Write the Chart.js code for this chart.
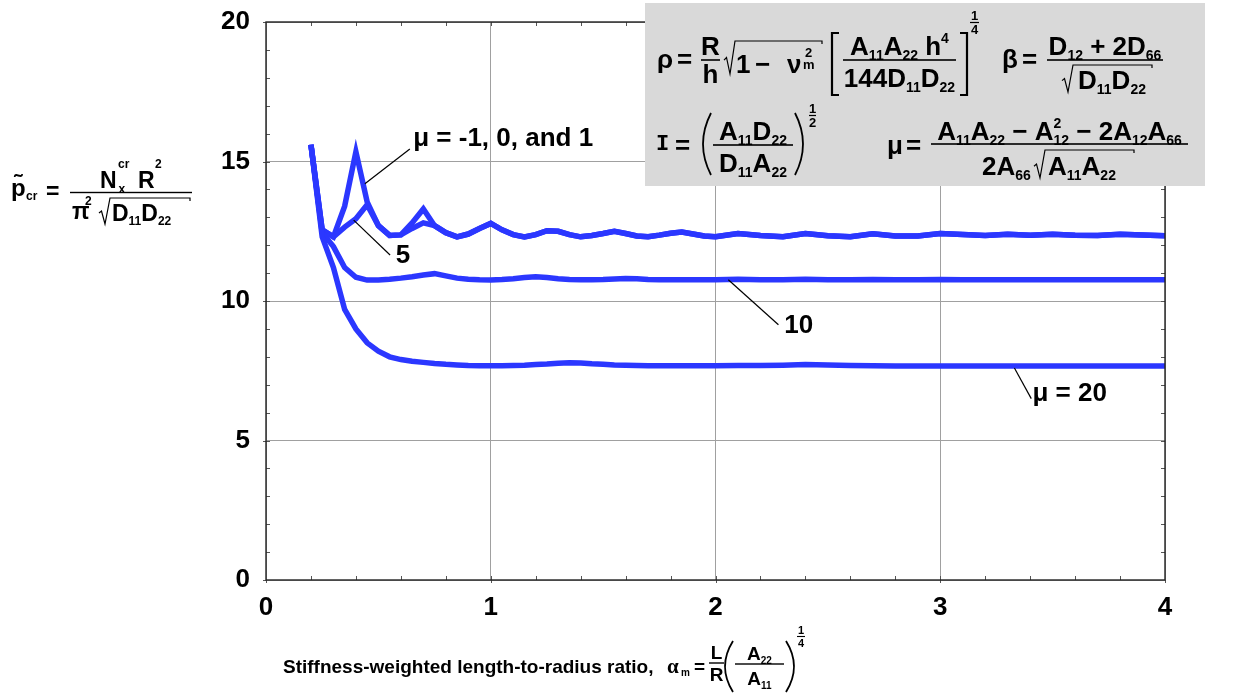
<!DOCTYPE html>
<html>
<head>
<meta charset="utf-8">
<script src="https://cdn.jsdelivr.net/npm/chart.js@4.4.0/dist/chart.umd.min.js"></script>
<style>
  html, body { margin: 0; padding: 0; background: #fff; }
  #wrap { width: 1235px; height: 700px; position: relative; }
</style>
</head>
<body>
<div id="wrap"><canvas id="buckling"></canvas></div>
<script>
// stiffness-weighted length-to-radius ratio, shared by every curve
const alpha = [
  0.2, 0.25, 0.3, 0.35, 0.4, 0.45, 0.5, 0.55, 0.6, 0.65,
  0.7, 0.75, 0.8, 0.85, 0.9, 0.95, 1.0, 1.05, 1.1, 1.15,
  1.2, 1.25, 1.3, 1.35, 1.4, 1.45, 1.5, 1.55, 1.6, 1.65,
  1.7, 1.75, 1.8, 1.85, 1.9, 1.95, 2.0, 2.1, 2.2, 2.3,
  2.4, 2.5, 2.6, 2.7, 2.8, 2.9, 3.0, 3.1, 3.2, 3.3,
  3.4, 3.5, 3.6, 3.7, 3.8, 3.9, 4.0
];

// normalized buckling load for each mu
const pMu1 = [
  15.6, 12.55, 12.3, 13.4, 15.35, 13.55, 12.7, 12.35, 12.37, 12.8,
  13.3, 12.7, 12.45, 12.3, 12.4, 12.6, 12.78, 12.55, 12.38, 12.3,
  12.38, 12.52, 12.5, 12.38, 12.3, 12.35, 12.42, 12.5, 12.42, 12.33,
  12.3, 12.36, 12.43, 12.47, 12.4, 12.33, 12.3, 12.42, 12.35, 12.3,
  12.42, 12.34, 12.3, 12.41, 12.33, 12.33, 12.42, 12.38, 12.35, 12.39,
  12.36, 12.39, 12.36, 12.35, 12.39, 12.37, 12.34
];
const pMu5 = [
  15.6, 12.55, 12.3, 12.65, 12.95, 13.45, 12.7, 12.35, 12.37, 12.6,
  12.8, 12.7, 12.45, 12.3, 12.4, 12.6, 12.78, 12.55, 12.38, 12.3,
  12.38, 12.52, 12.5, 12.38, 12.3, 12.35, 12.42, 12.5, 12.42, 12.33,
  12.3, 12.36, 12.43, 12.47, 12.4, 12.33, 12.3, 12.42, 12.35, 12.3,
  12.42, 12.34, 12.3, 12.41, 12.33, 12.33, 12.42, 12.38, 12.35, 12.39,
  12.36, 12.39, 12.36, 12.35, 12.39, 12.37, 12.34
];
const pMu10 = [
  15.6, 12.45, 11.95, 11.2, 10.85, 10.75, 10.75, 10.78, 10.82, 10.87,
  10.93, 10.98, 10.9, 10.82, 10.78, 10.76, 10.75, 10.77, 10.8, 10.84,
  10.87, 10.84, 10.8, 10.77, 10.76, 10.76, 10.77, 10.79, 10.81, 10.8,
  10.77, 10.76, 10.76, 10.76, 10.76, 10.76, 10.76, 10.78, 10.76, 10.76,
  10.78, 10.76, 10.76, 10.77, 10.76, 10.76, 10.77, 10.76, 10.76, 10.76,
  10.76, 10.76, 10.76, 10.76, 10.76, 10.76, 10.76
];
const pMu20 = [
  15.6, 12.3, 11.2, 9.7, 9.0, 8.5, 8.2, 8.0, 7.9, 7.84,
  7.8, 7.76, 7.73, 7.71, 7.69, 7.68, 7.68, 7.68, 7.69, 7.7,
  7.72, 7.74, 7.77, 7.79, 7.78, 7.75, 7.73, 7.71, 7.7, 7.69,
  7.68, 7.68, 7.68, 7.68, 7.68, 7.68, 7.68, 7.69, 7.69, 7.7,
  7.72, 7.71, 7.69, 7.68, 7.67, 7.67, 7.67, 7.67, 7.67, 7.67,
  7.67, 7.67, 7.67, 7.67, 7.67, 7.67, 7.67
];

// curve labels with their leader lines, in data units
const curveLabels = [
  { text: 'μ = -1, 0, and 1', at: [0.655, 15.8], align: 'left', lead: [[0.44, 14.2], [0.64, 15.45]] },
  { text: '5', at: [0.61, 11.62], align: 'center', lead: [[0.39, 12.9], [0.552, 11.65]] },
  { text: '10', at: [2.37, 9.1], align: 'center', lead: [[2.057, 10.76], [2.28, 9.15]] },
  { text: 'μ = 20', at: [3.41, 6.68], align: 'left', lead: [[3.33, 7.6], [3.405, 6.5]] }
];

const BLUE = 'rgb(43, 55, 255)';
const FAM = '"Liberation Sans", Arial, Helvetica, sans-serif';

function series(vals) {
  return vals.map((v, i) => ({ x: alpha[i], y: v }));
}

// ---- small helpers for the typeset formulas ----
function put(ctx, t, x, base, size, align, fam) {
  ctx.font = 'bold ' + size + 'px ' + (fam || FAM);
  ctx.textAlign = align || 'left';
  ctx.fillText(t, x, base);
  return ctx.measureText(t).width;
}

// pieces: [text, level, stay]; level 0 normal, -1 subscript, 1 superscript
function runText(ctx, x, base, pieces, size, dry) {
  let pen = x;
  ctx.textAlign = 'left';
  for (const [t, lvl, stay] of pieces) {
    const s = lvl === 0 ? size : Math.round(size * 0.54);
    const dy = lvl < 0 ? size * 0.19 : (lvl > 0 ? -size * 0.45 : 0);
    ctx.font = 'bold ' + s + 'px ' + FAM;
    if (!dry) ctx.fillText(t, pen, base + dy);
    if (!stay) pen += ctx.measureText(t).width;
  }
  return pen - x;
}

function centred(ctx, cx, base, pieces, size) {
  const w = runText(ctx, 0, 0, pieces, size, true);
  runText(ctx, cx - w / 2, base, pieces, size);
}

function hbar(ctx, x1, x2, y, lw) {
  ctx.fillRect(x1, y - lw / 2, x2 - x1, lw);
}

function radical(ctx, x, top, bottom, end) {
  const h = bottom - top;
  ctx.save();
  ctx.lineWidth = 1.2;
  ctx.lineJoin = 'miter';
  ctx.beginPath();
  ctx.moveTo(x, bottom - h * 0.42);
  ctx.lineTo(x + 2.5, bottom - h * 0.5);
  ctx.lineTo(x + 6, bottom);
  ctx.lineTo(x + 11, top);
  ctx.lineTo(end, top);
  ctx.lineTo(end, top + 3);
  ctx.stroke();
  ctx.restore();
}

function bracket(ctx, x, top, bottom, dir) {
  ctx.save();
  ctx.lineWidth = 2.2;
  ctx.beginPath();
  ctx.moveTo(x + dir * 7, top);
  ctx.lineTo(x, top);
  ctx.lineTo(x, bottom);
  ctx.lineTo(x + dir * 7, bottom);
  ctx.stroke();
  ctx.restore();
}

function paren(ctx, x, top, bottom, dir) {
  ctx.save();
  ctx.lineWidth = 1.8;
  ctx.beginPath();
  ctx.moveTo(x, top);
  ctx.quadraticCurveTo(x - dir * 16, (top + bottom) / 2, x, bottom);
  ctx.stroke();
  ctx.restore();
}

function drawFormulaBox(ctx) {
  ctx.save();
  ctx.fillStyle = '#d9d9d9';
  ctx.fillRect(645, 3, 560, 183);
  ctx.fillStyle = '#000';
  ctx.strokeStyle = '#000';
  ctx.textBaseline = 'alphabetic';
  const S = 26, s = 13;

  // rho = R/h sqrt(1 - nu_m^2) [A11 A22 h^4 / 144 D11 D22]^(1/4)
  put(ctx, 'ρ', 657, 68, S);
  put(ctx, '=', 677, 68, S);
  hbar(ctx, 701, 720, 60, 1.6);
  put(ctx, 'R', 710.5, 55, S, 'center');
  put(ctx, 'h', 710.5, 83, S, 'center');
  radical(ctx, 724, 41, 74, 822);
  put(ctx, '1', 736, 73, S);
  put(ctx, '\u2212', 755, 73, S);
  put(ctx, 'ν', 787, 73, S);
  put(ctx, '2', 805, 57, s);
  put(ctx, 'm', 803, 69, s);
  bracket(ctx, 832, 33, 95, 1);
  bracket(ctx, 967, 33, 95, -1);
  hbar(ctx, 843, 956, 60, 1.6);
  centred(ctx, 899.5, 55, [['A', 0], ['11', -1], ['A', 0], ['22', -1], [' h', 0], ['4', 1]], S);
  centred(ctx, 899.5, 87, [['144D', 0], ['11', -1], ['D', 0], ['22', -1]], S);
  put(ctx, '1', 974.5, 20, s, 'center');
  hbar(ctx, 970, 979, 22.5, 1.2);
  put(ctx, '4', 974.5, 34, s, 'center');

  // beta = (D12 + 2 D66) / sqrt(D11 D22)
  put(ctx, 'β', 1002, 68, S);
  put(ctx, '=', 1022, 68, S);
  hbar(ctx, 1047, 1163, 60, 1.6);
  centred(ctx, 1105, 55, [['D', 0], ['12', -1], [' + 2D', 0], ['66', -1]], S);
  radical(ctx, 1062, 65, 92, 1152);
  centred(ctx, 1112, 89, [['D', 0], ['11', -1], ['D', 0], ['22', -1]], S);

  // I = (A11 D22 / D11 A22)^(1/2)
  put(ctx, 'I', 656, 150, 22, 'left', '"Liberation Mono", monospace');
  put(ctx, '=', 675, 154, S);
  paren(ctx, 711, 113, 175, 1);
  paren(ctx, 795, 113, 175, -1);
  hbar(ctx, 713, 793, 145, 1.6);
  centred(ctx, 753, 140, [['A', 0], ['11', -1], ['D', 0], ['22', -1]], S);
  centred(ctx, 753, 172, [['D', 0], ['11', -1], ['A', 0], ['22', -1]], S);
  put(ctx, '1', 812.5, 113, s, 'center');
  hbar(ctx, 809, 816, 115.5, 1.2);
  put(ctx, '2', 812.5, 127, s, 'center');

  // mu = (A11 A22 - A12^2 - 2 A12 A66) / (2 A66 sqrt(A11 A22))
  put(ctx, 'μ', 887, 154, S);
  put(ctx, '=', 906, 154, S);
  hbar(ctx, 931, 1188, 144, 1.6);
  centred(ctx, 1059.5, 140, [['A', 0], ['11', -1], ['A', 0], ['22', -1], [' \u2212 A', 0], ['2', 1, true],
    ['12', -1], [' \u2212 2A', 0], ['12', -1], ['A', 0], ['66', -1]], S);
  runText(ctx, 982, 175, [['2A', 0], ['66', -1]], S);
  radical(ctx, 1034, 150, 178, 1134);
  runText(ctx, 1048, 175, [['A', 0], ['11', -1], ['A', 0], ['22', -1]], S);
  ctx.restore();
}

function drawAxisTitles(ctx) {
  ctx.save();
  ctx.fillStyle = '#000';
  ctx.strokeStyle = '#000';
  ctx.textBaseline = 'alphabetic';

  // p~_cr = N_x^cr R^2 / (pi^2 sqrt(D11 D22))
  const T = 23, t = 12;
  put(ctx, 'p', 11, 196, 24);
  put(ctx, '\u02DC', 18, 191, 24, 'center');
  put(ctx, 'cr', 26, 200, t);
  put(ctx, '=', 46, 199, T);
  hbar(ctx, 70, 192, 192.5, 1.4);
  put(ctx, 'N', 100, 188, T);
  put(ctx, 'cr', 118, 168, t);
  put(ctx, 'x', 118.5, 193, t);
  put(ctx, 'R', 138, 188, T);
  put(ctx, '2', 155, 168, t);
  put(ctx, 'π', 72, 219, T);
  put(ctx, '2', 85, 205, t);
  radical(ctx, 99, 198, 224, 190);
  runText(ctx, 112, 221, [['D', 0], ['11', -1], ['D', 0], ['22', -1]], T);

  // Stiffness-weighted length-to-radius ratio, alpha_m = L/R (A22/A11)^(1/4)
  put(ctx, 'Stiffness-weighted length-to-radius ratio,', 283, 673, 19);
  put(ctx, 'α', 667, 673, 21, 'left', '"Liberation Serif", serif');
  put(ctx, 'm', 681, 676, 10);
  put(ctx, '=', 694, 673, 19);
  hbar(ctx, 709, 724, 663, 1.4);
  put(ctx, 'L', 716.5, 659, 19, 'center');
  put(ctx, 'R', 716.5, 681, 19, 'center');
  paren(ctx, 733, 641, 692, 1);
  paren(ctx, 786, 641, 692, -1);
  hbar(ctx, 735, 784, 664, 1.4);
  centred(ctx, 759.5, 660, [['A', 0], ['22', -1]], 19);
  centred(ctx, 759.5, 685, [['A', 0], ['11', -1]], 19);
  put(ctx, '1', 801, 634, 11, 'center');
  hbar(ctx, 797, 805, 636.5, 1.1);
  put(ctx, '4', 801, 647, 11, 'center');
  ctx.restore();
}

// frame, inward ticks, curve labels, formula panel and axis titles
const decorations = {
  id: 'decorations',
  afterDatasetsDraw(chart) {
    const { ctx, chartArea: a, scales: { x, y } } = chart;
    ctx.save();
    // curve labels
    ctx.strokeStyle = '#000';
    ctx.lineWidth = 1.2;
    ctx.fillStyle = '#000';
    ctx.textBaseline = 'middle';
    for (const lab of curveLabels) {
      const [p, q] = lab.lead;
      ctx.beginPath();
      ctx.moveTo(x.getPixelForValue(p[0]), y.getPixelForValue(p[1]));
      ctx.lineTo(x.getPixelForValue(q[0]), y.getPixelForValue(q[1]));
      ctx.stroke();
      put(ctx, lab.text, x.getPixelForValue(lab.at[0]), y.getPixelForValue(lab.at[1]), 26, lab.align);
    }
    // tick marks on all four sides
    ctx.strokeStyle = '#555';
    ctx.lineWidth = 1;
    ctx.beginPath();
    for (let i = 1; i < 20; i++) {
      const px = Math.round(x.getPixelForValue(i * 0.2)) + 0.5;
      ctx.moveTo(px, a.bottom); ctx.lineTo(px, a.bottom - 4);
      ctx.moveTo(px, a.top); ctx.lineTo(px, a.top + 4);
      const py = Math.round(y.getPixelForValue(i)) + 0.5;
      ctx.moveTo(a.left, py); ctx.lineTo(a.left + 4, py);
      ctx.moveTo(a.right, py); ctx.lineTo(a.right - 4, py);
    }
    for (let v = 0; v <= 4; v++) {
      const px = Math.round(x.getPixelForValue(v)) + 0.5;
      ctx.moveTo(px, a.bottom); ctx.lineTo(px, a.bottom + 3);
    }
    for (let v = 0; v <= 20; v += 5) {
      const py = Math.round(y.getPixelForValue(v)) + 0.5;
      ctx.moveTo(a.left, py); ctx.lineTo(a.left - 3, py);
    }
    ctx.stroke();
    // frame
    ctx.strokeStyle = '#222';
    ctx.lineWidth = 1.4;
    ctx.strokeRect(a.left, a.top, a.right - a.left, a.bottom - a.top);
    ctx.restore();
  },
  afterDraw(chart) {
    drawFormulaBox(chart.ctx);
    drawAxisTitles(chart.ctx);
  }
};

const tickFont = { family: FAM, size: 26, weight: 'bold' };

new Chart(document.getElementById('buckling'), {
  type: 'scatter',
  data: {
    datasets: [
      { label: 'mu = 20', data: series(pMu20) },
      { label: 'mu = 10', data: series(pMu10) },
      { label: 'mu = 5', data: series(pMu5) },
      { label: 'mu = -1, 0, 1', data: series(pMu1) }
    ].map(d => Object.assign(d, {
      showLine: true,
      borderColor: BLUE,
      backgroundColor: BLUE,
      borderWidth: 5.5,
      pointRadius: 0,
      tension: 0,
      borderJoinStyle: 'miter'
    }))
  },
  options: {
    responsive: true,
    maintainAspectRatio: false,
    animation: false,
    layout: { padding: { top: 22, right: 70, bottom: 0, left: 0 } },
    plugins: { legend: { display: false }, tooltip: { enabled: false } },
    scales: {
      x: {
        type: 'linear', min: 0, max: 4,
        afterFit(scale) { scale.height = 120; scale.paddingLeft = 0; scale.paddingRight = 0; },
        ticks: { stepSize: 1, padding: 12, color: '#000', font: tickFont },
        grid: { color: '#a0a0a0', lineWidth: 1, drawTicks: false },
        border: { display: false }
      },
      y: {
        type: 'linear', min: 0, max: 20,
        afterFit(scale) { scale.width = 266; scale.paddingTop = 0; scale.paddingBottom = 0; },
        ticks: { stepSize: 5, padding: 16, color: '#000', font: tickFont },
        grid: { color: '#a0a0a0', lineWidth: 1, drawTicks: false },
        border: { display: false }
      }
    }
  },
  plugins: [decorations]
});
</script>
</body>
</html>
